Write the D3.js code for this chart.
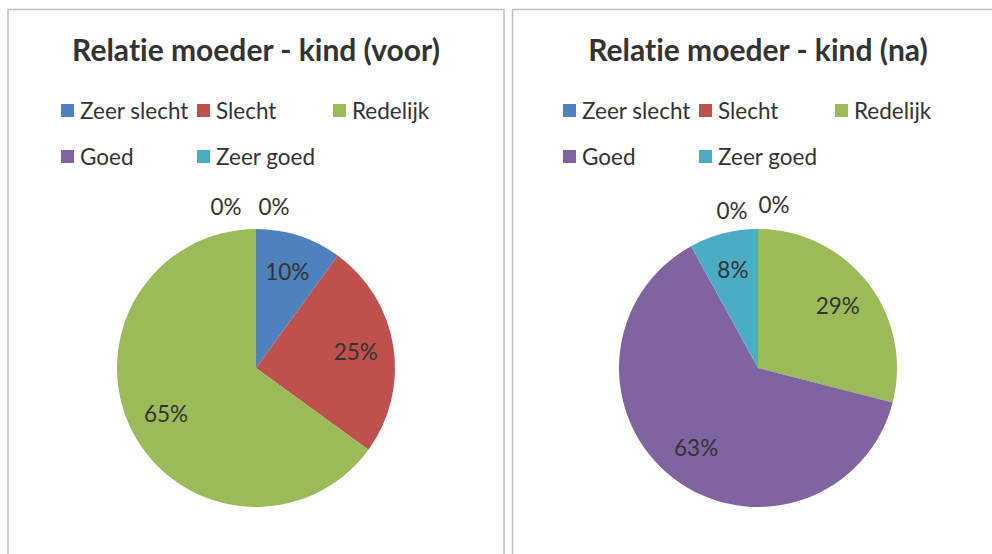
<!DOCTYPE html>
<html><head><meta charset="utf-8">
<script src="https://cdn.jsdelivr.net/npm/d3@7"></script>
<style>body{margin:0;background:#fff}svg{display:block}text{font-family:Lato,"Open Sans",sans-serif;font-variant-ligatures:none;font-feature-settings:"liga" 0,"dlig" 0}</style>
</head><body>
<svg id="c" width="992" height="554"></svg>
<script>
const categories = ["Zeer slecht","Slecht","Redelijk","Goed","Zeer goed"];
const colors = ["#4F81BD","#C0504D","#9BBB59","#8064A2","#4BACC6"];
const titles = ["Relatie moeder - kind (voor)","Relatie moeder - kind (na)"];
const valuesVoor = [10,25,65,0,0];
const valuesNa = [0,0,29,63,8];

const svg = d3.select("#c");
const panels = [
  {x:8, w:496, cx:256, title:titles[0], values:valuesVoor, zeroOff:[[-30,-161],[18,-161]]},
  {x:512.5, w:496, cx:758, title:titles[1], values:valuesNa, zeroOff:[[-26,-157],[16,-163]]}
];
const R = 139, cy = 368;
const color = d3.scaleOrdinal().domain(categories).range(colors);
const pie = d3.pie().sort(null).value(d=>d.v);
const arc = d3.arc().innerRadius(0).outerRadius(R);
const labelArc = d3.arc().innerRadius(101).outerRadius(101);

panels.forEach((p,pi)=>{
  const g = svg.append("g");
  g.append("rect").attr("x",p.x).attr("y",9.5).attr("width",p.w).attr("height",600)
    .attr("fill","#fff").attr("stroke","#BFBFBF").attr("stroke-width",1.5);
  g.append("text").attr("x",p.cx).attr("y",61).attr("text-anchor","middle")
    .attr("font-size",30).attr("font-weight","bold").attr("fill","#333").text(p.title);
  const colOff=[-195,-59,77];
  categories.forEach((c,i)=>{
    const col=i%3,row=Math.floor(i/3);
    const lx=p.cx+colOff[col], ly=111+row*46;
    g.append("rect").attr("x",lx).attr("y",ly-7).attr("width",13).attr("height",13).attr("fill",color(c));
    g.append("text").attr("x",lx+19).attr("y",ly+7.5).attr("font-size",22.5).attr("fill","#333").text(c);
  });
  const data = pie(categories.map((c,i)=>({c,v:p.values[i]})));
  const pg = g.append("g").attr("transform",`translate(${p.cx},${cy})`);
  pg.selectAll("path").data(data.filter(d=>d.data.v>0)).join("path")
    .attr("d",arc).attr("fill",d=>color(d.data.c));
  let zi=0;
  data.forEach(d=>{
    let x,y;
    if(d.data.v===0){ const o=p.zeroOff[zi++]; x=o[0]; y=o[1]; }
    else { [x,y]=labelArc.centroid(d); }
    pg.append("text").attr("x",x).attr("y",y).attr("text-anchor","middle").attr("dy","0.36em")
      .attr("font-size",22.5).attr("fill","#333").text(d3.format(".0f")(d.data.v)+"%");
  });
});
</script>
</body></html>
